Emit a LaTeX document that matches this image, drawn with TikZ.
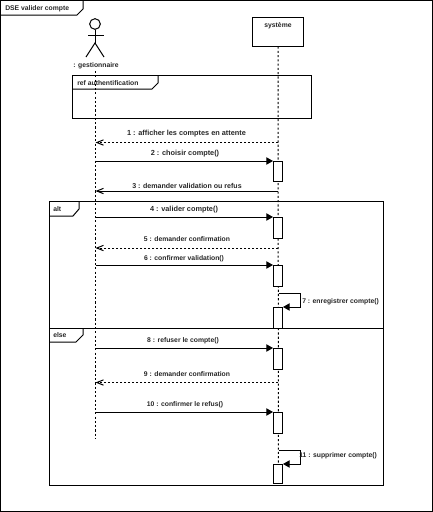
\documentclass[tikz,border=0pt]{standalone}
\usepackage{fontspec}
\setmainfont{Liberation Sans}
\usetikzlibrary{arrows.meta}
\begin{document}
\begin{tikzpicture}[x=0.75pt,y=-0.75pt,
  ln/.style={line width=0.75pt,draw=black},
  life/.style={line width=0.75pt,dash pattern=on 1.6pt off 1.6pt},
  lbl/.style={font=\fontsize{5.1pt}{6pt}\selectfont\bfseries,inner sep=0pt,text=black!85},
  lblw/.style={lbl,font=\fontsize{5.5pt}{6pt}\selectfont\bfseries},
  act/.style={ln,fill=white,minimum width=6.75pt,minimum height=15pt,inner sep=0pt,anchor=north},
  sync/.style={ln,-{Triangle[length=5pt,width=5.5pt,fill=black]}},
  ret/.style={ln,dash pattern=on 1.7pt off 1.3pt,-{Straight Barb[length=5pt,width=4pt]}},
  open/.style={ln,-{Straight Barb[length=5pt,width=4pt]}},
  fragment/.style={ln,fill=white}]
\useasboundingbox (0,0) rectangle (433,512);
\draw[ln] (0.5,0.5) rectangle (432,511);
\draw[ln] (0.5,15) -- (77,15) -- (83,9) -- (83,0.5);
\node[lbl,anchor=west] (title) at (5,8.5) {DSE valider compte};

% actor
\node[ln,draw,circle,minimum size=8pt,inner sep=0pt] (head) at (95,24) {};
\coordinate (neck) at (95,43);
\draw[ln] (head.south) -- (neck);
\coordinate (armL) at (88,35); \coordinate (armR) at (104,35);
\draw[ln] (armL) -- (armR);
\coordinate (legL) at (86,57); \coordinate (legR) at (104,57);
\draw[ln] (legL) -- (neck) -- (legR);
\node[lbl,anchor=center] (actor) at (96,65.5) {: gestionnaire};
\coordinate (actorTop) at (95.5,71);
\coordinate (actorEnd) at (95.5,438);

% system
\node[ln,draw,fill=white,minimum width=38.25pt,minimum height=21.75pt,inner sep=0pt] (sys) at (278,31.5) {};
\node[lbl] (sysl) at (278,25.5) {système};
\coordinate (sysEnd) at (278.5,483);

% ref frame
\draw[ln] (72.5,75.5) rectangle (311.5,118);
\draw[ln] (72.5,89) -- (152,89) -- (158,83) -- (158,75.5);
\node[lbl,anchor=west] (ref) at (77,83) {ref authentification};

% lifelines
\draw[life] (actorTop) -- (actorEnd);
\draw[life] (sys.south) -- (sysEnd);

% combined fragment
\draw[ln] (49,201) rectangle (383.5,485);
\draw[ln] (49,328) -- (383.5,328);
\draw[ln] (49,216) -- (73,216) -- (79,209) -- (79,201);
\node[lbl,anchor=west] (alt) at (53,209) {alt};
\draw[ln] (49,342) -- (76,342) -- (83,335) -- (83,328);
\node[lbl,anchor=west] (else) at (53,335) {else};

% activations
\node[act,minimum height=15pt]   (a2)  at (278,161) {};
\node[act,minimum height=15.4pt] (a4)  at (278,217) {};
\node[act,minimum height=15.8pt] (a6)  at (278,265) {};
\node[act,minimum height=15.4pt] (a7)  at (278,307) {};
\node[act,minimum height=15.4pt] (a8)  at (278,348) {};
\node[act,minimum height=15.4pt] (a10) at (278,412) {};
\node[act,minimum height=14.3pt] (a11) at (278,464) {};

% messages
\coordinate (m1a) at (278,142.5); \coordinate (m1b) at (95.5,142.5);
\draw[ret] (m1a) -- (m1b);
\node[lblw] (l1) at (186.5,133.5) {1 : afficher les comptes en attente};

\coordinate (m2) at (95.5,161);
\draw[sync] (m2) -- (a2.north west);
\node[lblw] (l2) at (185,153.5) {2 : choisir compte()};

\coordinate (m3a) at (278,191); \coordinate (m3b) at (95.5,191);
\draw[open] (m3a) -- (m3b);
\node[lbl,font=\fontsize{5.3pt}{6pt}\selectfont\bfseries] (l3) at (187,185.5) {3 : demander validation ou refus};

\coordinate (m4) at (95.5,217);
\draw[sync] (m4) -- (a4.north west);
\node[lblw] (l4) at (184,209.5) {4 : valider compte()};

\coordinate (m5a) at (278,248); \coordinate (m5b) at (95.5,248);
\draw[ret] (m5a) -- (m5b);
\node[lbl] (l5) at (187,239.5) {5 : demander confirmation};

\coordinate (m6) at (95.5,265);
\draw[sync] (m6) -- (a6.north west);
\node[lbl] (l6) at (184,258.5) {6 : confirmer validation()};

\coordinate (m7a) at (278.5,293); \coordinate (m7b) at (300.5,293); \coordinate (m7c) at (300.5,307);
\draw[sync] (m7a) -- (m7b) -- (m7c) -- (a7.north east);
\node[lbl,anchor=west] (l7) at (302,301.5) {7 : enregistrer compte()};

\coordinate (m8) at (95.5,348);
\draw[sync] (m8) -- (a8.north west);
\node[lbl] (l8) at (183,341) {8 : refuser le compte()};

\coordinate (m9a) at (278,382.5); \coordinate (m9b) at (95.5,382.5);
\draw[ret] (m9a) -- (m9b);
\node[lbl] (l9) at (187,374) {9 : demander confirmation};

\coordinate (m10) at (95.5,412);
\draw[sync] (m10) -- (a10.north west);
\node[lbl] (l10) at (185,405) {10 : confirmer le refus()};

\coordinate (m11a) at (278.5,450); \coordinate (m11b) at (300.5,450); \coordinate (m11c) at (300.5,464);
\draw[sync] (m11a) -- (m11b) -- (m11c) -- (a11.north east);
\node[lbl,anchor=west] (l11) at (299,456) {11 : supprimer compte()};
\end{tikzpicture}
\end{document}
